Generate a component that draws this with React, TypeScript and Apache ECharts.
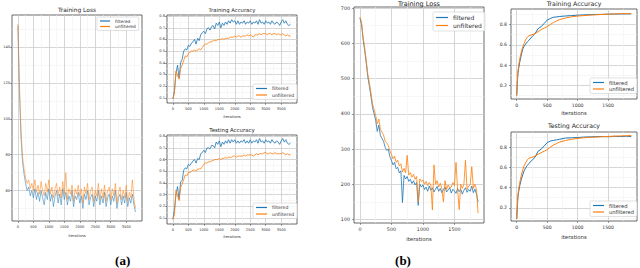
import React, { useEffect, useRef } from "react";
import * as echarts from "echarts";

const BLUE = "#1f77b4";
const ORANGE = "#ff7f0e";
const FONT = "DejaVu Sans";
const NAMES = ["filtered", "unfiltered"];

// ---------- (a) ----------
const ITERS_A = [0,50,100,150,200,250,300,350,400,450,500,550,600,650,700,750,800,850,900,950,1000,1050,1100,1150,1200,1250,1300,1350,1400,1450,1500,1550,1600,1650,1700,1750,1800,1850,1900,1950,2000,2050,2100,2150,2200,2250,2300,2350,2400,2450,2500,2550,2600,2650,2700,2750,2800,2850,2900,2950,3000,3050,3100,3150,3200,3250,3300,3350,3400,3450,3500,3550,3600,3650,3700,3750,3800];

const LOSS_A_FILTERED = [
  152,116,90,76,69,64,60,62,57,60,
  56,61,55,59,54,60,56,52,59,55,
  61,54,58,51,57,60,53,58,52,61,
  55,59,52,57,54,60,51,57,55,59,
  53,57,50,58,55,60,52,56,58,51,
  57,54,60,52,57,53,59,51,56,58,
  52,57,54,60,50,56,58,52,57,53,
  59,51,56,53,58,52,48];
const LOSS_A_UNFILTERED = [
  153,119,94,79,72,67,64,66,61,64,
  60,66,59,63,58,65,60,57,64,59,
  66,58,62,56,61,64,57,62,56,65,
  58,70,55,61,58,63,54,61,58,63,
  57,61,53,62,58,64,55,60,62,54,
  60,57,64,55,61,56,63,54,60,62,
  55,61,57,64,53,59,62,55,60,56,
  63,54,59,56,66,55,50];

const TRAIN_ACC_A_FILTERED = [
  0.09,0.16,0.31,0.38,0.27,0.40,0.43,0.50,0.52,0.51,
  0.55,0.54,0.57,0.58,0.60,0.56,0.61,0.59,0.64,0.66,
  0.67,0.65,0.69,0.70,0.68,0.71,0.72,0.69,0.74,0.72,
  0.75,0.70,0.74,0.72,0.75,0.73,0.76,0.74,0.77,0.75,
  0.76,0.73,0.76,0.73,0.75,0.74,0.76,0.73,0.75,0.74,
  0.76,0.73,0.75,0.74,0.76,0.73,0.77,0.74,0.75,0.73,
  0.76,0.74,0.75,0.73,0.76,0.74,0.73,0.75,0.74,0.72,
  0.75,0.77,0.74,0.76,0.73,0.72,0.73];
const TRAIN_ACC_A_UNFILTERED = [
  0.09,0.14,0.33,0.29,0.26,0.35,0.38,0.42,0.46,0.45,
  0.48,0.49,0.50,0.50,0.51,0.50,0.51,0.52,0.51,0.53,
  0.55,0.56,0.56,0.57,0.58,0.58,0.59,0.59,0.59,0.60,
  0.60,0.60,0.61,0.60,0.61,0.61,0.61,0.62,0.62,0.62,
  0.63,0.62,0.63,0.63,0.62,0.63,0.63,0.63,0.64,0.63,
  0.64,0.63,0.62,0.64,0.64,0.64,0.65,0.64,0.65,0.65,
  0.65,0.64,0.65,0.65,0.64,0.65,0.65,0.64,0.65,0.64,
  0.64,0.65,0.64,0.63,0.64,0.63,0.63];

const TEST_ACC_A_FILTERED = [
  0.09,0.17,0.30,0.37,0.26,0.41,0.42,0.51,0.53,0.52,
  0.56,0.55,0.57,0.59,0.60,0.57,0.61,0.60,0.65,0.66,
  0.68,0.66,0.70,0.70,0.69,0.72,0.72,0.70,0.75,0.73,
  0.76,0.71,0.75,0.73,0.76,0.74,0.77,0.74,0.77,0.75,
  0.77,0.74,0.76,0.74,0.76,0.75,0.77,0.74,0.76,0.74,
  0.77,0.74,0.76,0.75,0.77,0.74,0.78,0.75,0.76,0.74,
  0.77,0.75,0.76,0.74,0.77,0.75,0.74,0.76,0.75,0.73,
  0.76,0.78,0.75,0.77,0.74,0.73,0.74];
const TEST_ACC_A_UNFILTERED = [
  0.09,0.13,0.34,0.29,0.25,0.36,0.39,0.43,0.47,0.46,
  0.49,0.49,0.50,0.51,0.51,0.50,0.52,0.52,0.52,0.54,
  0.56,0.57,0.57,0.58,0.58,0.59,0.59,0.60,0.60,0.60,
  0.61,0.60,0.61,0.61,0.62,0.61,0.62,0.62,0.62,0.63,
  0.63,0.62,0.63,0.63,0.63,0.63,0.64,0.63,0.64,0.64,
  0.64,0.64,0.63,0.64,0.65,0.64,0.65,0.65,0.65,0.66,
  0.66,0.65,0.65,0.66,0.65,0.65,0.66,0.65,0.65,0.65,
  0.65,0.66,0.65,0.64,0.65,0.64,0.64];

// ---------- (b) ----------
const ITERS_B_LOSS = [0,25,50,75,100,125,150,175,200,225,250,275,300,325,350,375,400,425,450,475,500,525,550,575,600,625,650,675,700,725,750,775,800,825,850,875,900,925,950,975,1000,1025,1050,1075,1100,1125,1150,1175,1200,1225,1250,1275,1300,1325,1350,1375,1400,1425,1450,1475,1500,1525,1550,1575,1600,1625,1650,1675,1700,1725,1750,1775,1800,1825,1850,1875];

const LOSS_B_FILTERED = [
  672,655,612,580,545,505,478,450,418,400,
  382,350,368,338,330,322,305,296,300,278,
  268,255,262,244,248,232,238,148,225,215,
  222,208,214,202,210,198,205,140,200,192,
  198,185,192,180,195,183,190,178,186,194,
  180,188,176,185,192,178,184,190,175,186,
  181,174,188,179,186,172,183,190,177,185,
  180,195,176,186,172,150];
const LOSS_B_UNFILTERED = [
  674,660,618,588,552,512,488,460,428,412,
  395,372,385,356,348,340,322,318,310,295,
  285,272,280,262,268,252,258,235,245,232,
  282,226,233,220,228,214,222,150,215,208,
  212,200,208,196,205,198,127,255,200,210,
  192,203,188,150,210,185,198,190,192,205,
  196,262,185,128,200,188,200,268,185,195,
  198,250,188,200,185,118];

const ITERS_B_ACC = [0,10,20,35,50,75,100,125,150,175,200,250,300,350,400,450,500,550,600,650,700,800,900,1000,1100,1200,1300,1400,1500,1600,1700,1800,1880];

const TRAIN_ACC_B_FILTERED = [0.10,0.22,0.32,0.38,0.43,0.50,0.56,0.59,0.61,0.63,0.645,0.68,0.71,0.76,0.78,0.81,0.845,0.86,0.872,0.876,0.88,0.885,0.889,0.893,0.896,0.898,0.90,0.901,0.903,0.904,0.905,0.905,0.906];
const TRAIN_ACC_B_UNFILTERED = [0.10,0.24,0.34,0.41,0.46,0.53,0.58,0.62,0.655,0.675,0.69,0.70,0.71,0.73,0.75,0.765,0.78,0.80,0.82,0.835,0.848,0.865,0.877,0.884,0.889,0.893,0.897,0.90,0.903,0.905,0.907,0.908,0.909];
const TEST_ACC_B_FILTERED = [0.09,0.20,0.31,0.37,0.42,0.48,0.53,0.57,0.60,0.62,0.64,0.67,0.70,0.76,0.78,0.81,0.845,0.86,0.867,0.872,0.878,0.89,0.893,0.895,0.90,0.902,0.904,0.906,0.903,0.907,0.905,0.908,0.906];
const TEST_ACC_B_UNFILTERED = [0.09,0.23,0.33,0.40,0.45,0.52,0.58,0.62,0.65,0.675,0.69,0.70,0.71,0.73,0.745,0.76,0.775,0.80,0.82,0.835,0.85,0.866,0.878,0.887,0.893,0.897,0.90,0.903,0.906,0.909,0.911,0.913,0.915];

// ---------- ticks ----------
const X_TICKS_A = [0,500,1000,1500,2000,2500,3000,3500];
const X_MINOR_A = [250,750,1250,1750,2250,2750,3250,3750];
const X_TICKS_B = [0,500,1000,1500];
const X_MINOR_B = [250,750,1250,1750];
const LOSS_A_YTICKS = [60,80,100,120,140];
const LOSS_A_YMINOR = [50,70,90,110,130,150];
const ACC_A_YTICKS = [0.1,0.2,0.3,0.4,0.5,0.6,0.7,0.8];
const ACC_A_YMINOR = [0.15,0.25,0.35,0.45,0.55,0.65,0.75];
const LOSS_B_YTICKS = [100,200,300,400,500,600,700];
const LOSS_B_YMINOR = [150,250,350,450,550,650];
const ACC_B_YTICKS = [0.2,0.4,0.6,0.8];
const ACC_B_YMINOR = [0.1,0.3,0.5,0.7,0.9];

const pairs = (xs: number[], ys: number[]) => ys.map((y, i) => [xs[i], y]);

type Panel = {
  grid: { left: number; top: number; width: number; height: number };
  xr: [number, number]; xTicks: number[]; xMinor: number[];
  yr: [number, number]; yTicks: number[]; yMinor: number[];
  fmt: (v: number) => string;
  tickFont: number; nameFont: number; nameGap: number; xMargin: number; yMargin: number;
  lw: number; opacity: number;
  x: number[]; f: number[]; u: number[];
  title: string; titleX: number; titleY: number; titleFont: number;
  legend: { left: number; top: number; font: number; iw: number; pad: number[]; gap: number };
};

const intFmt = (v: number) => String(Math.round(v));
const decFmt = (v: number) => v.toFixed(1);

const PANELS: Panel[] = [
  {
    grid: { left: 12, top: 15, width: 130, height: 206 },
    xr: [-190, 4010], xTicks: X_TICKS_A, xMinor: X_MINOR_A,
    yr: [43, 158], yTicks: LOSS_A_YTICKS, yMinor: LOSS_A_YMINOR, fmt: intFmt,
    tickFont: 3.6, nameFont: 3.7, nameGap: 13, xMargin: 4, yMargin: 2,
    lw: 0.7, opacity: 0.75,
    x: ITERS_A, f: LOSS_A_FILTERED, u: LOSS_A_UNFILTERED,
    title: "Training Loss", titleX: 77, titleY: 9.5, titleFont: 5.9,
    legend: { left: 97, top: 17, font: 4.3, iw: 10, pad: [2, 3, 2, 3], gap: 1.5 },
  },
  {
    grid: { left: 167, top: 15, width: 130, height: 88 },
    xr: [-190, 4010], xTicks: X_TICKS_A, xMinor: X_MINOR_A,
    yr: [0.055, 0.81], yTicks: ACC_A_YTICKS, yMinor: ACC_A_YMINOR, fmt: decFmt,
    tickFont: 3.6, nameFont: 3.7, nameGap: 12, xMargin: 4, yMargin: 2,
    lw: 0.8, opacity: 1,
    x: ITERS_A, f: TRAIN_ACC_A_FILTERED, u: TRAIN_ACC_A_UNFILTERED,
    title: "Training Accuracy", titleX: 232, titleY: 10, titleFont: 5.3,
    legend: { left: 253, top: 84, font: 4.6, iw: 11, pad: [2, 3, 2, 3], gap: 1.5 },
  },
  {
    grid: { left: 167, top: 135, width: 130, height: 89 },
    xr: [-190, 4010], xTicks: X_TICKS_A, xMinor: X_MINOR_A,
    yr: [0.05, 0.81], yTicks: ACC_A_YTICKS, yMinor: ACC_A_YMINOR, fmt: decFmt,
    tickFont: 3.6, nameFont: 3.7, nameGap: 11, xMargin: 4, yMargin: 2,
    lw: 0.8, opacity: 1,
    x: ITERS_A, f: TEST_ACC_A_FILTERED, u: TEST_ACC_A_UNFILTERED,
    title: "Testing Accuracy", titleX: 232, titleY: 130, titleFont: 5.4,
    legend: { left: 253, top: 203, font: 4.6, iw: 11, pad: [2, 3, 2, 3], gap: 1.5 },
  },
  {
    grid: { left: 354, top: 7, width: 130, height: 216 },
    xr: [-94, 1969], xTicks: X_TICKS_B, xMinor: X_MINOR_B,
    yr: [90, 703], yTicks: LOSS_B_YTICKS, yMinor: LOSS_B_YMINOR, fmt: intFmt,
    tickFont: 4.8, nameFont: 5.4, nameGap: 11.5, xMargin: 3.5, yMargin: 4,
    lw: 1, opacity: 0.8,
    x: ITERS_B_LOSS, f: LOSS_B_FILTERED, u: LOSS_B_UNFILTERED,
    title: "Training Loss", titleX: 419, titleY: 3.5, titleFont: 6.5,
    legend: { left: 433, top: 12, font: 6, iw: 12, pad: [2.5, 3, 2.5, 3], gap: 2 },
  },
  {
    grid: { left: 511, top: 9, width: 126, height: 90 },
    xr: [-94, 1974], xTicks: X_TICKS_B, xMinor: X_MINOR_B,
    yr: [0.065, 0.954], yTicks: ACC_B_YTICKS, yMinor: ACC_B_YMINOR, fmt: decFmt,
    tickFont: 4.6, nameFont: 5.4, nameGap: 11, xMargin: 3.5, yMargin: 4,
    lw: 1, opacity: 1,
    x: ITERS_B_ACC, f: TRAIN_ACC_B_FILTERED, u: TRAIN_ACC_B_UNFILTERED,
    title: "Training Accuracy", titleX: 574, titleY: 3.5, titleFont: 6.2,
    legend: { left: 590, top: 78, font: 5.2, iw: 11, pad: [2, 3, 2, 3], gap: 1.5 },
  },
  {
    grid: { left: 511, top: 132, width: 126, height: 89 },
    xr: [-94, 1974], xTicks: X_TICKS_B, xMinor: X_MINOR_B,
    yr: [0.07, 0.95], yTicks: ACC_B_YTICKS, yMinor: ACC_B_YMINOR, fmt: decFmt,
    tickFont: 4.6, nameFont: 5.4, nameGap: 13, xMargin: 3.5, yMargin: 4,
    lw: 1, opacity: 1,
    x: ITERS_B_ACC, f: TEST_ACC_B_FILTERED, u: TEST_ACC_B_UNFILTERED,
    title: "Testing Accuracy", titleX: 574, titleY: 125, titleFont: 6.2,
    legend: { left: 590, top: 201, font: 5.2, iw: 11, pad: [2, 3, 2, 3], gap: 1.5 },
  },
];

function buildOption() {
  const grid: any[] = [];
  const xAxis: any[] = [];
  const yAxis: any[] = [];
  const series: any[] = [];
  const legend: any[] = [];
  const graphic: any[] = [];

  PANELS.forEach((p, i) => {
    grid.push({ ...p.grid, show: true, borderColor: "#444", borderWidth: 0.8, backgroundColor: "transparent" });
    // minor grid axes
    xAxis.push({
      gridIndex: i, type: "value", min: p.xr[0], max: p.xr[1], position: "top",
      axisLine: { show: false, onZero: false }, axisLabel: { show: false },
      axisTick: { show: false, customValues: p.xMinor },
      splitLine: { show: true, lineStyle: { color: "#f1f1f1", width: 0.6 } },
    });
    yAxis.push({
      gridIndex: i, type: "value", min: p.yr[0], max: p.yr[1], position: "right",
      axisLine: { show: false, onZero: false }, axisLabel: { show: false },
      axisTick: { show: false, customValues: p.yMinor },
      splitLine: { show: true, lineStyle: { color: "#f1f1f1", width: 0.6 } },
    });
    // major axes
    xAxis.push({
      gridIndex: i, type: "value", min: p.xr[0], max: p.xr[1], position: "bottom",
      axisLine: { show: false, onZero: false },
      axisTick: { show: true, customValues: p.xTicks, length: 1.8, lineStyle: { color: "#444", width: 0.6 } },
      axisLabel: { customValues: p.xTicks, fontSize: p.tickFont, color: "#333", margin: p.xMargin, fontFamily: FONT, formatter: (v: number) => intFmt(v) },
      splitLine: { show: true, lineStyle: { color: "#cccccc", width: 0.8 } },
      name: "iterations", nameLocation: "middle", nameGap: p.nameGap,
      nameTextStyle: { fontSize: p.nameFont, color: "#333", fontFamily: FONT },
    });
    yAxis.push({
      gridIndex: i, type: "value", min: p.yr[0], max: p.yr[1], position: "left",
      axisLine: { show: false, onZero: false },
      axisTick: { show: true, customValues: p.yTicks, length: 1.8, lineStyle: { color: "#444", width: 0.6 } },
      axisLabel: { customValues: p.yTicks, fontSize: p.tickFont, color: "#333", margin: p.yMargin, fontFamily: FONT, formatter: p.fmt },
      splitLine: { show: true, lineStyle: { color: "#cccccc", width: 0.8 } },
    });
    const xi = 2 * i + 1;
    [
      { name: NAMES[0], data: p.f, color: BLUE },
      { name: NAMES[1], data: p.u, color: ORANGE },
    ].forEach((s) => {
      series.push({
        type: "line", name: s.name, xAxisIndex: xi, yAxisIndex: xi,
        data: pairs(p.x, s.data), showSymbol: false, symbol: "none",
        color: s.color, silent: true,
        lineStyle: { width: p.lw, color: s.color, opacity: p.opacity },
        emphasis: { disabled: true },
      });
    });
    legend.push({
      orient: "vertical", left: p.legend.left, top: p.legend.top, data: NAMES,
      selectedMode: false, backgroundColor: "rgba(255,255,255,0.85)",
      borderColor: "#cccccc", borderWidth: 0.6, borderRadius: 1.5,
      padding: p.legend.pad, itemGap: p.legend.gap, itemWidth: p.legend.iw, itemHeight: 1.2,
      icon: "rect",
      textStyle: { fontSize: p.legend.font, color: "#333", fontFamily: FONT },
    });
    graphic.push({
      type: "text", x: p.titleX, y: p.titleY, silent: true,
      style: { text: p.title, fontSize: p.titleFont, fontFamily: FONT, fill: "#222", align: "center", verticalAlign: "middle" },
    });
  });

  graphic.push({
    type: "text", x: 122.7, y: 260.5, silent: true,
    style: { text: "(a)", fontSize: 13, fontWeight: "bold", fontFamily: "Liberation Serif", fill: "#000", align: "center", verticalAlign: "middle" },
  });
  graphic.push({
    type: "text", x: 403, y: 260.5, silent: true,
    style: { text: "(b)", fontSize: 13, fontWeight: "bold", fontFamily: "Liberation Serif", fill: "#000", align: "center", verticalAlign: "middle" },
  });

  return {
    animation: false,
    backgroundColor: "#ffffff",
    textStyle: { fontFamily: FONT },
    grid, xAxis, yAxis, series, legend, graphic,
  };
}

export default function App() {
  const ref = useRef<HTMLDivElement>(null);
  useEffect(() => {
    if (!ref.current) return;
    const chart = echarts.init(ref.current, undefined, { renderer: "svg" });
    chart.setOption(buildOption() as any);
    return () => chart.dispose();
  }, []);
  return (
    <div
      ref={ref}
      style={{ position: "fixed", left: 0, top: 0, width: 640, height: 268, background: "#fff" }}
    />
  );
}
